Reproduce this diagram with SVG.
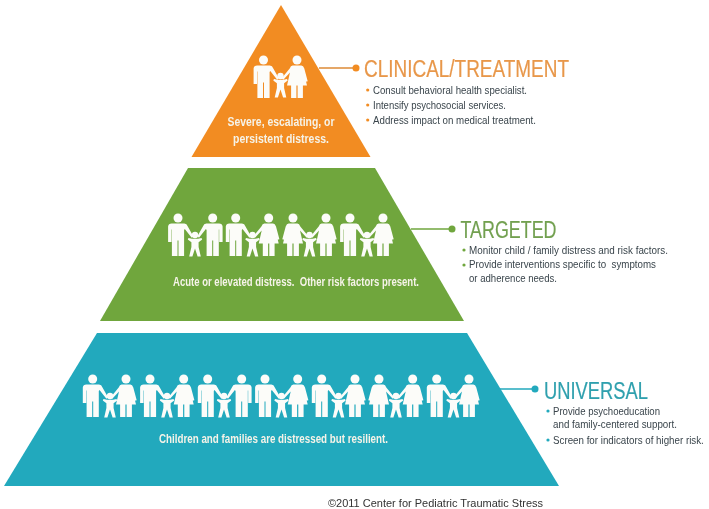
<svg xmlns="http://www.w3.org/2000/svg" xmlns:xlink="http://www.w3.org/1999/xlink" width="709" height="509" viewBox="0 0 709 509">
<style>
text{font-family:"Liberation Sans Narrow","Liberation Sans",Arial,sans-serif}
.h{font-size:23.5px;stroke-width:.2}
.b{font-size:11.5px;fill:#3a454c}
.s{font-size:10.2px}
.w{font-size:12.5px;font-weight:bold;fill:#f6f3e8}
.f{font-family:"Liberation Sans",Arial,sans-serif;font-size:11px;fill:#333}
.or{fill:#f28c22}.gr{fill:#6fa63e}.te{fill:#20a9bd}
.hor{fill:#e8974a;stroke:#e8974a}.hgr{fill:#72a050;stroke:#72a050}.hte{fill:#2fa0ae;stroke:#2fa0ae}
.ppl{fill:#fcfcf9}
.ln{stroke-width:1.6;fill:none}
.soft{filter:url(#soft)}
</style>
<defs>
<filter id="soft" x="-5%" y="-5%" width="110%" height="110%"><feGaussianBlur stdDeviation="0.3"/></filter>
<g id="man">
<circle cx="0" cy="0" r="4.500"/>
<path d="M-6.300 5.500H6.300Q9 5.500 9.500 8L15.300 18.300 13.700 19.700 6.800 11 6.100 12V38H.5V22.500H-.5V38H-6.100V11.500H-6.500V24H-9.900V8.500Q-9.600 5.500 -6.300 5.500Z"/>
</g>
<g id="woman">
<circle cx="0" cy="0" r="4.500"/>
<path d="M-4.300 5.500H4.300Q6.300 5.500 7.300 8.500L15.300 18.300 13.700 19.700 7 12.500 10 25.500H5.900V38H.6V25.500H-.6V38H-5.900V25.500H-10L-6.700 12-8.700 21.800-10.700 21.200-7.300 8.500Q-6.300 5.500 -4.300 5.500Z"/>
</g>
<g id="child">
<circle cx="0" cy="0" r="3.200"/>
<path d="M-3 3.800H3L6.500 3 7.200 4.600 3.600 7.200 3.600 12 5.800 21.500H2.600L0 13.500-2.600 21.500H-5.800L-3.600 12-3.600 7.200-7.200 4.600-6.500 3Z"/>
</g>
</defs>
<g id="tier-clinical" class="soft">
<path class="or" d="M281 5L370.500 157H191.500Z"/>
<g class="ppl">
<use xlink:href="#man" x="263.500" y="60"/><use xlink:href="#child" x="280.500" y="76"/><use xlink:href="#woman" transform="translate(297,60) scale(-1,1)"/>
</g>
<text class="w" x="281" y="126" text-anchor="middle" textLength="107" lengthAdjust="spacingAndGlyphs">Severe, escalating, or</text>
<text class="w" x="281" y="143" text-anchor="middle" textLength="96" lengthAdjust="spacingAndGlyphs">persistent distress.</text>
</g>
<g id="tier-targeted" class="soft">
<path class="gr" d="M188 168H375L464 321H100Z"/>
<g class="ppl">
<use xlink:href="#man" x="178" y="218"/><use xlink:href="#child" x="195" y="235"/><use xlink:href="#man" transform="translate(212.700,218) scale(-1,1)"/>
<use xlink:href="#man" x="235.700" y="218"/><use xlink:href="#child" x="252.500" y="235"/><use xlink:href="#woman" transform="translate(268.700,218) scale(-1,1)"/>
<use xlink:href="#woman" x="293" y="218"/><use xlink:href="#child" x="309.500" y="235"/><use xlink:href="#woman" transform="translate(326,218) scale(-1,1)"/>
<use xlink:href="#man" x="350" y="218"/><use xlink:href="#child" x="367" y="235"/><use xlink:href="#woman" transform="translate(383,218) scale(-1,1)"/>
</g>
<text class="w" x="173" y="286" textLength="246" lengthAdjust="spacingAndGlyphs" xml:space="preserve">Acute or elevated distress.  Other risk factors present.</text>
</g>
<g id="tier-universal" class="soft">
<path class="te" d="M97 333H467L559 486H4Z"/>
<g class="ppl">
<use xlink:href="#man" x="92.700" y="379"/><use xlink:href="#child" x="110" y="396"/><use xlink:href="#woman" transform="translate(126,379) scale(-1,1)"/>
<use xlink:href="#man" x="150" y="379"/><use xlink:href="#child" x="167" y="396"/><use xlink:href="#woman" transform="translate(183.700,379) scale(-1,1)"/>
<use xlink:href="#man" x="207.700" y="379"/><use xlink:href="#child" x="224" y="396"/><use xlink:href="#man" transform="translate(241.700,379) scale(-1,1)"/>
<use xlink:href="#man" x="265" y="379"/><use xlink:href="#child" x="281.500" y="396"/><use xlink:href="#woman" transform="translate(297.700,379) scale(-1,1)"/>
<use xlink:href="#man" x="321.700" y="379"/><use xlink:href="#child" x="338.500" y="396"/><use xlink:href="#woman" transform="translate(355,379) scale(-1,1)"/>
<use xlink:href="#woman" x="379" y="379"/><use xlink:href="#child" x="396" y="396"/><use xlink:href="#woman" transform="translate(412.700,379) scale(-1,1)"/>
<use xlink:href="#man" x="436.700" y="379"/><use xlink:href="#child" x="453.500" y="396"/><use xlink:href="#woman" transform="translate(469,379) scale(-1,1)"/>
</g>
<text class="w" x="159" y="443" textLength="229" lengthAdjust="spacingAndGlyphs">Children and families are distressed but resilient.</text>
</g>
<g id="connectors" class="soft">
<path class="ln" stroke="#dd8a35" d="M319 68H356"/><circle class="or" cx="356" cy="68" r="3.500"/>
<path class="ln" stroke="#6fa63e" d="M411 229H452"/><circle class="gr" cx="452" cy="229" r="3.500"/>
<path class="ln" stroke="#20a9bd" d="M500 389H535"/><circle class="te" cx="535" cy="389" r="3.500"/>
</g>
<g id="label-clinical" class="soft">
<text class="h hor" x="364" y="76.500" textLength="205" lengthAdjust="spacingAndGlyphs">CLINICAL/TREATMENT</text>
<circle class="or" cx="367.700" cy="90" r="1.600"/><circle class="or" cx="367.700" cy="105" r="1.600"/><circle class="or" cx="367.700" cy="120" r="1.600"/>
<text class="b" x="373" y="94" textLength="154" lengthAdjust="spacingAndGlyphs">Consult behavioral health specialist.</text>
<text class="b" x="373" y="109" textLength="133" lengthAdjust="spacingAndGlyphs">Intensify psychosocial services.</text>
<text class="b" x="373" y="124" textLength="163" lengthAdjust="spacingAndGlyphs">Address impact on medical treatment.</text>
</g>
<g id="label-targeted" class="soft">
<text class="h hgr" x="460.500" y="237.500" textLength="96" lengthAdjust="spacingAndGlyphs">TARGETED</text>
<circle class="gr" cx="464" cy="250" r="1.600"/><circle class="gr" cx="464" cy="265" r="1.600"/>
<text class="b" x="469" y="254" textLength="199" lengthAdjust="spacingAndGlyphs">Monitor child / family distress and risk factors.</text>
<text class="b s" x="469" y="268" textLength="187" lengthAdjust="spacingAndGlyphs" xml:space="preserve">Provide interventions specific to  symptoms</text>
<text class="b s" x="469" y="282" textLength="88" lengthAdjust="spacingAndGlyphs">or adherence needs.</text>
</g>
<g id="label-universal" class="soft">
<text class="h hte" x="544" y="399" textLength="104" lengthAdjust="spacingAndGlyphs">UNIVERSAL</text>
<circle class="te" cx="548" cy="411" r="1.600"/><circle class="te" cx="548" cy="440" r="1.600"/>
<text class="b" x="553" y="415" textLength="107" lengthAdjust="spacingAndGlyphs">Provide psychoeducation</text>
<text class="b" x="553" y="428" textLength="124" lengthAdjust="spacingAndGlyphs">and family-centered support.</text>
<text class="b" transform="translate(553,444) scale(.85,1)" x="0" y="0">Screen for indicators of higher risk.</text>
</g>
<text class="f soft" x="328" y="507" textLength="215" lengthAdjust="spacingAndGlyphs">©2011 Center for Pediatric Traumatic Stress</text>
</svg>
